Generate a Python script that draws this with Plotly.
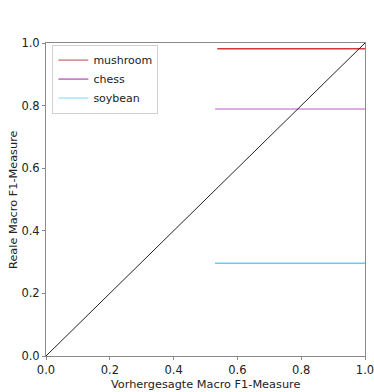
import plotly.graph_objects as go

datasets = ["mushroom", "chess", "soybean"]
real_f1 = [0.982, 0.789, 0.296]
pred_start = [0.537, 0.530, 0.530]
pred_end = [1.0, 1.0, 1.0]
colors = ["#d03a3a", "rgba(170,60,180,0.55)", "#5fd0f0"]
legend_colors = ["#c04848", "#a020a0", "#7fd8f4"]

diag_x = [0.0, 1.0]
diag_y = [0.0, 1.0]

x_ticks = [0.0, 0.2, 0.4, 0.6, 0.8, 1.0]
y_ticks = [0.0, 0.2, 0.4, 0.6, 0.8, 1.0]

x_title = "Vorhergesagte Macro F1-Measure"
y_title = "Reale Macro F1-Measure"

fig = go.Figure()
for name, y, xs, xe, c in zip(datasets, real_f1, pred_start, pred_end, colors):
    fig.add_trace(go.Scatter(x=[xs, xe], y=[y, y], mode="lines", name=name,
                             showlegend=False, line=dict(color=c, width=1.5)))
for name, lc in zip(datasets, legend_colors):
    fig.add_trace(go.Scatter(x=[None], y=[None], mode="lines", name=name,
                             line=dict(color=lc, width=1)))
fig.add_trace(go.Scatter(x=diag_x, y=diag_y, mode="lines", showlegend=False,
                         line=dict(color="#222222", width=1)))

font = "DejaVu Sans, sans-serif"
axis_common = dict(
    range=[0, 1], showgrid=False, zeroline=False, showline=True, mirror=True,
    linecolor="#8a8a8a", linewidth=1, ticks="outside", ticklen=3, tickcolor="#8a8a8a",
    tickfont=dict(family=font, size=11.5, color="#222222"), tickformat=".1f",
    automargin=False, ticklabeloverflow="allow",
)
fig.update_layout(
    width=374, height=392,
    margin=dict(l=46, r=9, t=43, b=36),
    paper_bgcolor="white", plot_bgcolor="white",
    font=dict(family=font, size=12, color="#222222"),
    xaxis=dict(**axis_common, tickvals=x_ticks),
    yaxis=dict(**axis_common, tickvals=y_ticks),
    legend=dict(x=0.02, y=0.995, xanchor="left", yanchor="top",
                bordercolor="#d0d0d0", borderwidth=1, bgcolor="white",
                font=dict(family=font, size=11), tracegroupgap=0, itemwidth=30),
    showlegend=True,
    annotations=[
        dict(text=x_title, xref="paper", yref="paper", x=0.5, y=-0.092,
             xanchor="center", yanchor="middle", showarrow=False,
             font=dict(family=font, size=11.3, color="#222222")),
        dict(text=y_title, xref="paper", yref="paper", x=-0.102, y=0.5,
             xanchor="center", yanchor="middle", showarrow=False, textangle=-90,
             font=dict(family=font, size=11.3, color="#222222")),
    ],
)
fig.write_html("out.html")
